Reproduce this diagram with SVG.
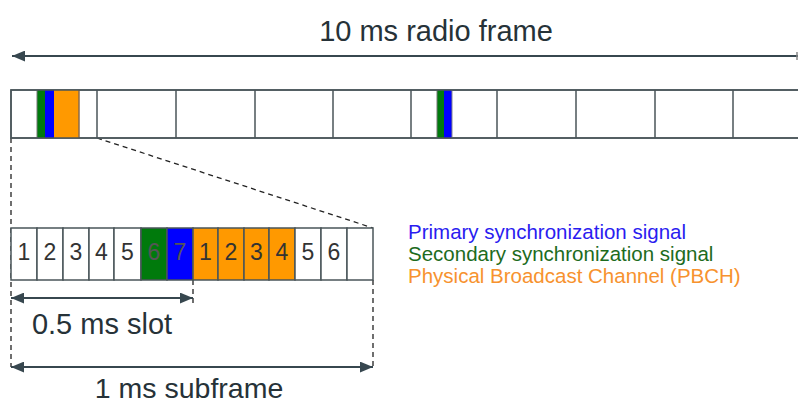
<svg xmlns="http://www.w3.org/2000/svg" width="798" height="404" viewBox="0 0 798 404">
<defs>
<marker id="ah" viewBox="0 0 12 10" refX="12" refY="5" markerWidth="13" markerHeight="11" markerUnits="userSpaceOnUse" orient="auto-start-reverse">
<path d="M0,0 L12,5 L0,10 Z" fill="#37474f"/>
</marker>
<style>
.lbl{font-family:"Liberation Sans",Arial,sans-serif;font-size:29px;fill:#263238}
.num{font-family:"Liberation Sans",Arial,sans-serif;font-size:23px;fill:#333;text-anchor:middle}
.leg{font-family:"Liberation Sans",Arial,sans-serif;font-size:20.5px}
.cell{stroke:#4a5559;stroke-width:1.5}
.arr{stroke:#37474f;stroke-width:2;fill:none}
.dash{stroke:#222;stroke-width:1.3;stroke-dasharray:5,4;fill:none}
</style>
</defs>
<g id="connectors">
<line class="arr" x1="798" y1="56" x2="12" y2="56" marker-end="url(#ah)"/>
<line x1="797" y1="52" x2="797" y2="60" stroke="#888" stroke-width="1.5"/>
<line class="dash" x1="11" y1="138" x2="11" y2="367"/>
<line class="dash" x1="97" y1="138" x2="373" y2="228"/>
<line class="dash" x1="193" y1="280" x2="193" y2="304"/>
<line class="dash" x1="373" y1="280" x2="373" y2="367"/>
<line class="arr" x1="11" y1="298" x2="193" y2="298" marker-start="url(#ah)" marker-end="url(#ah)"/>
<line class="arr" x1="11" y1="367" x2="373" y2="367" marker-start="url(#ah)" marker-end="url(#ah)"/>
</g>
<g id="radio-frame">
<rect x="11" y="90" width="800" height="48" fill="#fff" class="cell"/>
<rect x="37" y="90" width="8" height="48" fill="#007a0c"/>
<rect x="45" y="90" width="9" height="48" fill="#0000ff"/>
<rect x="54" y="90" width="25" height="48" fill="#ff9900"/>
<line x1="79" y1="90" x2="79" y2="138" stroke="#8a6a4a" stroke-width="1.5"/>
<line x1="37" y1="90" x2="37" y2="138" stroke="#777" stroke-width="1"/>
<rect x="437" y="90" width="7" height="48" fill="#007a0c"/>
<rect x="444" y="90" width="8" height="48" fill="#0000ff"/>
<line x1="437" y1="90" x2="437" y2="138" stroke="#777" stroke-width="1"/>
<line x1="452" y1="90" x2="452" y2="138" stroke="#888" stroke-width="1"/>
<rect x="11" y="90" width="800" height="48" fill="none" class="cell"/>
<g class="cell">
<line x1="97" y1="90" x2="97" y2="138"/>
<line x1="176" y1="90" x2="176" y2="138"/>
<line x1="255" y1="90" x2="255" y2="138"/>
<line x1="333" y1="90" x2="333" y2="138"/>
<line x1="411" y1="90" x2="411" y2="138"/>
<line x1="497" y1="90" x2="497" y2="138"/>
<line x1="576" y1="90" x2="576" y2="138"/>
<line x1="655" y1="90" x2="655" y2="138"/>
<line x1="733" y1="90" x2="733" y2="138"/>
</g>
</g>
<g id="subframe">
<g class="cell">
<rect x="11" y="228" width="26" height="52" fill="#fff"/>
<rect x="37" y="228" width="26" height="52" fill="#fff"/>
<rect x="63" y="228" width="26" height="52" fill="#fff"/>
<rect x="89" y="228" width="25" height="52" fill="#fff"/>
<rect x="114" y="228" width="27" height="52" fill="#fff"/>
<rect x="141" y="228" width="26" height="52" fill="#007a0c"/>
<rect x="167" y="228" width="26" height="52" fill="#0000ff"/>
<rect x="193" y="228" width="25" height="52" fill="#ff9900"/>
<rect x="218" y="228" width="26" height="52" fill="#ff9900"/>
<rect x="244" y="228" width="25" height="52" fill="#ff9900"/>
<rect x="269" y="228" width="26" height="52" fill="#ff9900"/>
<rect x="295" y="228" width="26" height="52" fill="#fff"/>
<rect x="321" y="228" width="26" height="52" fill="#fff"/>
<rect x="347" y="228" width="26" height="52" fill="#fff"/>
</g>
<text class="num" x="24" y="260">1</text>
<text class="num" x="50" y="260">2</text>
<text class="num" x="76" y="260">3</text>
<text class="num" x="101.5" y="260">4</text>
<text class="num" x="127.5" y="260">5</text>
<text class="num" x="154" y="260" style="fill:#555">6</text>
<text class="num" x="180" y="260" style="fill:#555">7</text>
<text class="num" x="205.5" y="260">1</text>
<text class="num" x="231" y="260">2</text>
<text class="num" x="256.5" y="260">3</text>
<text class="num" x="282" y="260">4</text>
<text class="num" x="308" y="260">5</text>
<text class="num" x="334" y="260">6</text>
</g>
<g id="labels">
<text class="lbl" x="436" y="41" text-anchor="middle">10 ms radio frame</text>
<text class="lbl" x="102" y="334" text-anchor="middle">0.5 ms slot</text>
<text class="lbl" x="189" y="398" text-anchor="middle" style="font-size:28.5px">1 ms subframe</text>
</g>
<g id="legend">
<text class="leg" x="408" y="239" fill="#2a1cf0">Primary synchronization signal</text>
<text class="leg" x="408" y="261" fill="#1d6b1d">Secondary synchronization signal</text>
<text class="leg" x="408" y="283" fill="#f7922e">Physical Broadcast Channel (PBCH)</text>
</g>
</svg>
